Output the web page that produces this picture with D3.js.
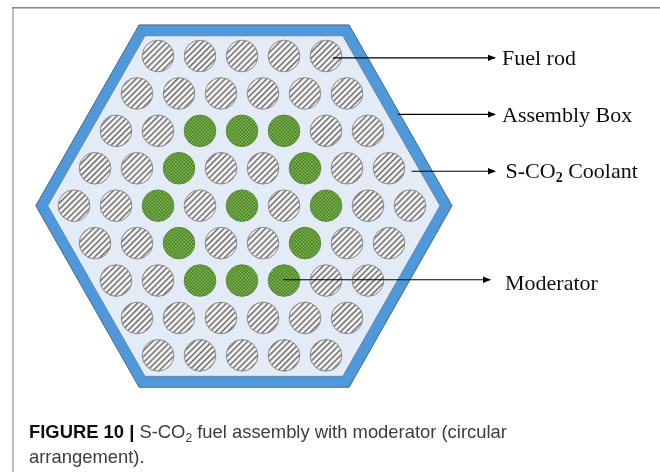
<!DOCTYPE html>
<html lang="en">
<head>
  <meta charset="UTF-8">
  <title>S-CO2 fuel assembly</title>
  <script src="https://d3js.org/d3.v7.min.js"></script>
  <style>
    html, body { margin: 0; padding: 0; background: #fff; }
    svg { display: block; }
  </style>
</head>
<body>
  <div id="my_dataviz"></div>
  <script>
    // rods per row, left to right: F = fuel rod, M = moderator
    var rodRows = ["FFFFF", "FFFFFF", "FFMMMFF", "FFMFFMFF", "FFMFMFMFF", "FFMFFMFF", "FFMMMFF", "FFFFFF", "FFFFF"];

    // hexagon corners, x in half pitches from the centre rod, y in rows
    var outerHexX = [-4.9, 5.1, 10, 5.1, -4.9, -9.82];
    var outerHexY = [-0.83, -0.83, 4, 8.85, 8.85, 4];
    var innerHexX = [-4.62, 4.8, 9.43, 4.8, -4.62, -9.25];
    var innerHexY = [-0.54, -0.54, 4, 8.56, 8.56, 4];

    // callouts: y in rows, start of the line in half pitches
    var calloutNames = ["Fuel rod", "Assembly Box", "Coolant", "Moderator"];
    var calloutRow = [0.05, 1.56, 3.08, 5.98];
    var calloutFrom = [4.33, 7.42, 8.08, 1.95];

    var width = 660, height = 472;

    var x = d3.scaleLinear().domain([-8, 8]).range([74, 410]);
    var y = d3.scaleLinear().domain([0, 8]).range([56, 355.4]);

    var svg = d3.select("#my_dataviz")
      .append("svg")
        .attr("width", width)
        .attr("height", height);

    var defs = svg.append("defs");

    // fuel rod hatch
    var hatch = defs.append("pattern")
        .attr("id", "hatch")
        .attr("patternUnits", "userSpaceOnUse")
        .attr("width", 4.2)
        .attr("height", 4.2)
        .attr("patternTransform", "rotate(-45 0 0)");
    hatch.append("rect").attr("width", 4.2).attr("height", 4.2).attr("fill", "#f2f2f2");
    hatch.append("rect").attr("width", 4.2).attr("height", 1.5).attr("fill", "#707070");

    // moderator checks
    var checks = defs.append("pattern")
        .attr("id", "checks")
        .attr("patternUnits", "userSpaceOnUse")
        .attr("width", 3.4)
        .attr("height", 3.4);
    checks.append("rect").attr("width", 3.4).attr("height", 3.4).attr("fill", "#7db548");
    checks.append("rect").attr("width", 1.7).attr("height", 1.7).attr("fill", "#4a7f2c");
    checks.append("rect").attr("x", 1.7).attr("y", 1.7).attr("width", 1.7).attr("height", 1.7).attr("fill", "#4a7f2c");

    defs.append("marker")
        .attr("id", "arrow")
        .attr("markerUnits", "userSpaceOnUse")
        .attr("viewBox", "0 0 8 8")
        .attr("refX", 7)
        .attr("refY", 4)
        .attr("markerWidth", 8)
        .attr("markerHeight", 8)
        .attr("orient", "auto")
      .append("path")
        .attr("d", "M0,0.8L8,4L0,7.2Z")
        .attr("fill", "#000");

    defs.append("filter").attr("id", "soft")
      .append("feGaussianBlur").attr("stdDeviation", 0.35);

    // page frame
    svg.append("rect").attr("x", 12).attr("y", 7).attr("width", 2).attr("height", height - 7).attr("fill", "#bdbdbd");
    svg.append("rect").attr("x", 12).attr("y", 7).attr("width", width - 12).attr("height", 1.6).attr("fill", "#8c8c8c");

    var fig = svg.append("g").attr("filter", "url(#soft)");

    var hexLine = d3.line().curve(d3.curveLinearClosed);
    function hexPath(xs, ys) {
      return hexLine(xs.map(function(d, i) { return [x(d), y(ys[i])]; }));
    }

    fig.append("path")
      .attr("d", hexPath(outerHexX, outerHexY))
      .attr("fill", "#4f98da")
      .attr("stroke", "#46698f")
      .attr("stroke-width", 1);

    fig.append("path")
      .attr("d", hexPath(innerHexX, innerHexY))
      .attr("fill", "#e3ebf6")
      .attr("stroke", "#5a7ea6")
      .attr("stroke-width", 0.8);

    // flatten the rows into one rod per circle
    var rods = [];
    rodRows.forEach(function(row, r) {
      row.split("").forEach(function(kind, i) {
        rods.push({row: r, col: i * 2 - (row.length - 1), kind: kind});
      });
    });

    fig.selectAll("circle")
      .data(rods)
      .enter()
      .append("circle")
        .attr("cx", function(d) { return x(d.col); })
        .attr("cy", function(d) { return y(d.row); })
        .attr("r", 15.8)
        .attr("fill", function(d) { return d.kind == "M" ? "url(#checks)" : "url(#hatch)"; })
        .attr("stroke", function(d) { return d.kind == "M" ? "#5d8a42" : "#8a8a8a"; })
        .attr("stroke-width", 1);

    // callout arrows
    fig.selectAll("line")
      .data(calloutNames)
      .enter()
      .append("line")
        .attr("x1", function(d, i) { return x(calloutFrom[i]); })
        .attr("x2", function(d, i) { return i == 3 ? 490 : 495; })
        .attr("y1", function(d, i) { return y(calloutRow[i]); })
        .attr("y2", function(d, i) { return y(calloutRow[i]); })
        .attr("stroke", "#000")
        .attr("stroke-width", 1.1)
        .attr("marker-end", "url(#arrow)");

    var serif = "'Liberation Serif', serif";

    fig.append("text").attr("x", 502).attr("y", 65).text("Fuel rod")
      .attr("font-family", serif).attr("font-size", 22).attr("fill", "#111");
    fig.append("text").attr("x", 502).attr("y", 121.7).text("Assembly Box")
      .attr("font-family", serif).attr("font-size", 22).attr("fill", "#111");

    var coolant = fig.append("text").attr("x", 505.5).attr("y", 178)
      .attr("font-family", serif).attr("font-size", 22).attr("fill", "#111");
    coolant.append("tspan").text("S-CO");
    coolant.append("tspan").text("2").attr("font-size", 14).attr("dy", 4).attr("font-weight", "bold");
    coolant.append("tspan").text(" Coolant").attr("dy", -4);

    fig.append("text").attr("x", 505).attr("y", 290).text("Moderator")
      .attr("font-family", serif).attr("font-size", 22).attr("fill", "#111");

    // caption
    var sans = "'Liberation Sans', Arial, sans-serif";
    var cap = fig.append("text").attr("x", 29).attr("y", 438)
      .attr("font-family", sans).attr("font-size", 18.4).attr("fill", "#3c3c3c");
    cap.append("tspan").text("FIGURE 10 | ").attr("font-weight", "bold").attr("fill", "#111");
    cap.append("tspan").text("S-CO");
    cap.append("tspan").text("2").attr("font-size", 12).attr("dy", 4);
    cap.append("tspan").text(" fuel assembly with moderator (circular").attr("dy", -4);

    fig.append("text").attr("x", 29).attr("y", 463).text("arrangement).")
      .attr("font-family", sans).attr("font-size", 18.4).attr("fill", "#3c3c3c");
  </script>
</body>
</html>
